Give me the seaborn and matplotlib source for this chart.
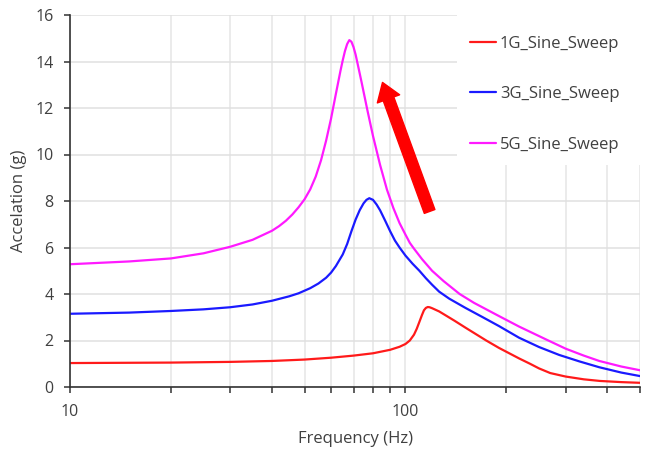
import numpy as np
import pandas as pd
import matplotlib
matplotlib.use("Agg")
import matplotlib.pyplot as plt
import matplotlib.ticker as mticker
from matplotlib.patches import Rectangle
import seaborn as sns

# ---- data ----
freq_1g = [10, 20, 30, 40, 50, 60, 70, 80, 90, 96, 100, 103, 106, 108, 110, 112,
           113.5, 115, 116.5, 118, 120, 126, 140, 151, 174, 190, 218, 235, 250,
           270, 300, 340, 380, 440, 500]
acc_1g = [1.03, 1.05, 1.08, 1.12, 1.18, 1.26, 1.35, 1.45, 1.60, 1.73, 1.85, 2.00,
          2.25, 2.50, 2.80, 3.10, 3.30, 3.40, 3.44, 3.43, 3.39, 3.25, 2.85, 2.55,
          2.00, 1.68, 1.23, 1.00, 0.80, 0.60, 0.45, 0.33, 0.26, 0.21, 0.18]

freq_3g = [10, 15, 20, 25, 30, 35, 40, 45, 48, 52, 55, 58, 60, 62, 65, 67, 69, 71,
           73, 75, 76.5, 78, 80, 82, 84, 87, 90, 93, 96, 100, 105, 110, 115, 120,
           126, 135, 151, 170, 190, 218, 250, 287, 330, 378, 440, 500]
acc_3g = [3.15, 3.20, 3.27, 3.34, 3.43, 3.55, 3.71, 3.90, 4.03, 4.25, 4.45, 4.70,
          4.92, 5.20, 5.70, 6.15, 6.70, 7.20, 7.60, 7.90, 8.05, 8.12, 8.05, 7.85,
          7.60, 7.15, 6.70, 6.30, 6.00, 5.65, 5.30, 5.00, 4.68, 4.40, 4.10, 3.80,
          3.40, 3.00, 2.62, 2.12, 1.72, 1.38, 1.10, 0.85, 0.62, 0.47]

freq_5g = [10, 15, 20, 25, 30, 35, 40, 42, 44, 46, 48, 50, 52, 54, 56, 58, 60, 62,
           64, 65, 66, 67, 68, 69, 70, 71, 72, 74, 77, 80, 84, 88, 92, 96, 100,
           103, 106, 112, 120, 130, 145, 160, 190, 218, 262, 300, 340, 378, 440, 500]
acc_5g = [5.28, 5.40, 5.53, 5.75, 6.03, 6.33, 6.72, 6.92, 7.15, 7.42, 7.73, 8.07,
          8.50, 9.05, 9.75, 10.60, 11.55, 12.60, 13.60, 14.05, 14.45, 14.75, 14.92,
          14.85, 14.62, 14.30, 13.90, 13.10, 11.90, 10.80, 9.55, 8.50, 7.70, 7.05,
          6.55, 6.20, 5.95, 5.50, 5.00, 4.55, 4.00, 3.62, 3.05, 2.60, 2.05, 1.65,
          1.35, 1.12, 0.88, 0.72]

series_names = ["1G_Sine_Sweep", "3G_Sine_Sweep", "5G_Sine_Sweep"]
series_colors = ["#ff1a1a", "#1a1aff", "#ff1aff"]
y_ticks = [0, 2, 4, 6, 8, 10, 12, 14, 16]
x_tick_labels = {10: "10", 100: "100"}
arrow_tail = (118.0, 7.55)
arrow_head = (85.4, 13.1)

# ---- build long-form table ----
df = pd.concat([
    pd.DataFrame({"Frequency": freq_1g, "Acc": acc_1g, "Series": series_names[0]}),
    pd.DataFrame({"Frequency": freq_3g, "Acc": acc_3g, "Series": series_names[1]}),
    pd.DataFrame({"Frequency": freq_5g, "Acc": acc_5g, "Series": series_names[2]}),
], ignore_index=True)

sns.set_theme(style="white")
plt.rcParams["font.family"] = ["Open Sans", "DejaVu Sans"]
text_col = "#404040"

fig = plt.figure(figsize=(6.5, 4.57), dpi=100)
ax = fig.add_axes([70 / 650, 1 - 387 / 457, 570 / 650, 372 / 457])

sns.lineplot(data=df, x="Frequency", y="Acc", hue="Series",
             palette=dict(zip(series_names, series_colors)),
             estimator=None, sort=False, linewidth=1.6, ax=ax, legend=True)
for ln in ax.get_lines():
    ln.set_solid_joinstyle("round")

ax.set_xscale("log")
ax.set_xlim(10, 500)
ax.set_ylim(0, 16)
ax.set_yticks(y_ticks)

ax.xaxis.set_major_locator(mticker.FixedLocator([10, 100]))
ax.xaxis.set_major_formatter(mticker.FuncFormatter(lambda v, p: x_tick_labels.get(int(round(v)), "")))
ax.xaxis.set_minor_locator(mticker.LogLocator(base=10, subs=np.arange(2, 10), numticks=20))
ax.xaxis.set_minor_formatter(mticker.NullFormatter())

ax.grid(True, which="both", axis="x", color="#e6e6e6", linewidth=1.1)
ax.grid(True, which="major", axis="y", color="#e0e0e0", linewidth=1.1)
ax.set_axisbelow(True)

for s in ["top", "right"]:
    ax.spines[s].set_visible(False)
for s in ["left", "bottom"]:
    ax.spines[s].set_color("#333333")
    ax.spines[s].set_linewidth(1.2)

ax.tick_params(axis="both", which="both", direction="out", length=4, width=1.1,
               color="#333333", labelsize=11.5, labelcolor=text_col, pad=8,
               bottom=True, left=True)

ax.set_xlabel("Frequency (Hz)", fontsize=12, color=text_col, labelpad=8)
ax.set_ylabel("Accelation (g)", fontsize=12, color=text_col, labelpad=6)

# white panel behind legend (covers gridlines)
ax.add_patch(Rectangle((0.679, 0.597), 0.321, 0.403, transform=ax.transAxes,
                       facecolor="white", edgecolor="none", zorder=1.5))

leg = ax.legend(loc="upper left", bbox_to_anchor=(0.69, 0.962), frameon=False,
                fontsize=12, labelspacing=2.07, handlelength=1.55,
                handletextpad=0.25, borderaxespad=0)
for t in leg.get_texts():
    t.set_color(text_col)
for h in leg.get_lines():
    h.set_linewidth(1.6)

ax.annotate("", xy=arrow_head, xytext=arrow_tail,
            arrowprops=dict(arrowstyle="simple,head_length=0.7,head_width=0.95,tail_width=0.45",
                            color="#ff0000", shrinkA=0, shrinkB=0, mutation_scale=18),
            zorder=4)

fig.savefig("out.png", dpi=100)
